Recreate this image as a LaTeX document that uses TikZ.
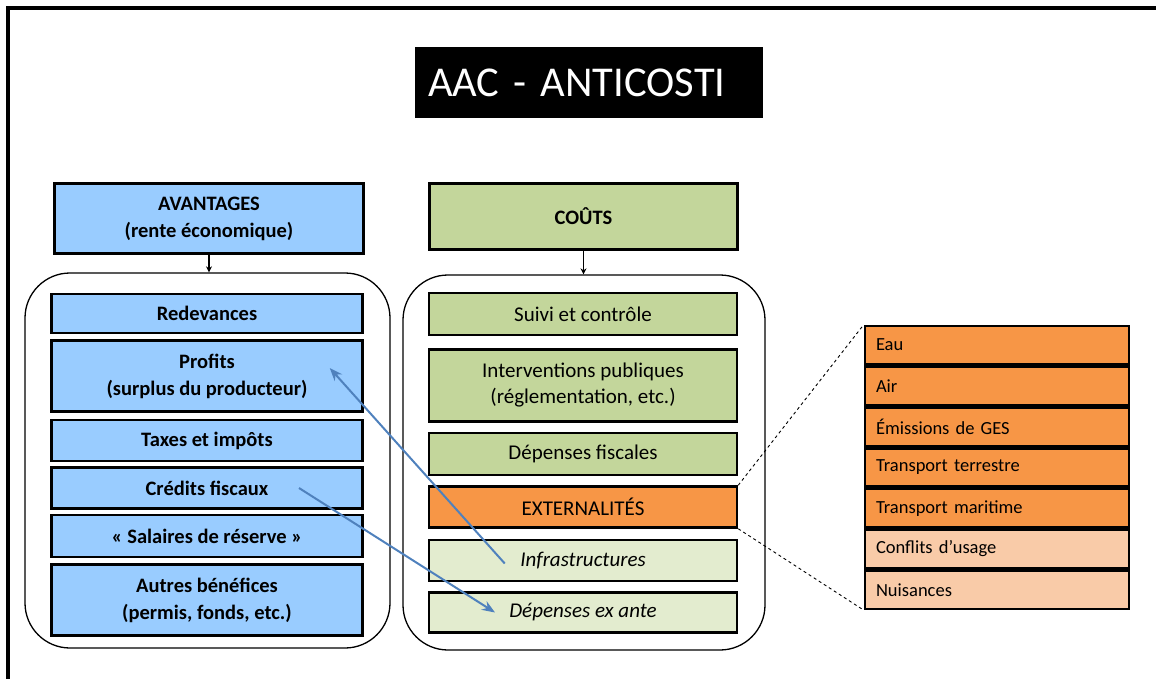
\documentclass[tikz,border=0pt]{standalone}
\usepackage{fontspec}
\setmainfont{Carlito}
\usepackage{xcolor}
\usetikzlibrary{arrows.meta, positioning}
\definecolor{avblue}{HTML}{99CCFF}
\definecolor{costgreen}{HTML}{C3D69B}
\definecolor{extorange}{HTML}{F79646}
\definecolor{paleorange}{HTML}{F9CBA8}
\definecolor{palegreen}{HTML}{E3ECCF}
\definecolor{linkblue}{HTML}{4F81BD}
\tikzset{
  itembox/.style={draw=black, line width=2.5pt, align=center, inner sep=0pt,
                  font=\fontsize{21}{26}\selectfont},
  benefit/.style={itembox, fill=avblue, font=\fontsize{20.5}{27}\selectfont\bfseries,
                  minimum width=311pt},
  cost/.style={itembox, fill=costgreen, minimum width=308pt},
  costpale/.style={cost, fill=palegreen, font=\fontsize{21}{26}\selectfont\itshape},
  extbox/.style={itembox, fill=extorange, minimum width=308pt},
  extitem/.style={itembox, fill=extorange, align=left, text width=242pt, inner xsep=11pt,
                  minimum height=38.3pt, font=\fontsize{18.5}{22}\selectfont},
  extitempale/.style={extitem, fill=paleorange},
  container/.style={draw=black, line width=1.3pt, rounded corners=45pt},
  droparrow/.style={-{Stealth[length=6pt, width=6pt]}, line width=1.6pt},
  linkarrow/.style={-{Stealth[length=13pt, width=10pt]}, line width=2pt, linkblue},
  zoomline/.style={dashed, line width=0.9pt}
}
\begin{document}
\begin{tikzpicture}[x=1pt, y=-1pt]
\useasboundingbox (0,0) rectangle (1156,679);

% frame
\draw[line width=4pt] (8,679) -- (8,8) -- (1156,8);

% title
\node[fill=black, text=white, align=left, text width=322pt, inner xsep=13pt,
      minimum height=71pt, font=\fontsize{42.5}{48}\selectfont] (title) at (589,83) {AAC - ANTICOSTI};

% headers
\node[benefit, minimum width=309pt, minimum height=70pt] (avantages) at (209,218.5)
  {AVANTAGES\\(rente économique)};
\node[cost, font=\fontsize{20.5}{26}\selectfont\bfseries, minimum width=308pt, minimum height=66pt]
  (couts) at (583.5,216.5) {COÛTS};

% containers
\node[container, minimum width=365pt, minimum height=375pt] (lcont) at (207.5,460.5) {};
\node[container, minimum width=362pt, minimum height=375pt] (rcont) at (584,462.5) {};

% benefits column
\node[benefit, minimum height=39pt] (redevances) at (207,313.5) {Redevances};
\node[benefit, minimum height=71pt, below=5pt of redevances] (profits) {Profits\\(surplus du producteur)};
\node[benefit, minimum height=41pt, below=6pt of profits] (taxes) {Taxes et impôts};
\node[benefit, minimum height=41pt, below=4pt of taxes] (credits) {Crédits fiscaux};
\node[benefit, minimum height=42pt, below=4pt of credits] (salaires) {«~Salaires de réserve~»};
\node[benefit, minimum height=71pt, below=5pt of salaires] (autres) {Autres bénéfices\\(permis, fonds, etc.)};

% costs column
\node[cost, minimum height=42pt] (suivi) at (583,314) {Suivi et contrôle};
\node[cost, minimum height=72pt, below=12pt of suivi] (interventions) {Interventions publiques\\(réglementation, etc.)};
\node[cost, minimum height=42pt, below=9pt of interventions] (fiscales) {Dépenses fiscales};
\node[extbox, minimum height=41pt, below=9pt of fiscales] (ext) {EXTERNALITÉS};
\node[costpale, minimum height=41pt, below=10pt of ext] (infra) {Infrastructures};
\node[costpale, minimum height=40pt, below=9pt of infra] (exante) {Dépenses ex ante};

% externalities detail
\node[extitem] (eau) at (997,345) {Eau};
\node[extitem, below=0pt of eau] (air) {Air};
\node[extitem, below=0pt of air] (ges) {Émissions de GES};
\node[extitem, below=0pt of ges] (terrestre) {Transport terrestre};
\node[extitem, below=0pt of terrestre] (maritime) {Transport maritime};
\node[extitempale, below=0pt of maritime] (conflits) {Conflits d’usage};
\node[extitempale, below=0pt of conflits] (nuisances) {Nuisances};

% arrows
\draw[droparrow] (avantages) -- (lcont.north -| avantages);
\draw[droparrow] (couts) -- (rcont.north -| couts);
\draw[zoomline] (ext.north east) -- (eau.north west);
\draw[zoomline] (ext.south east) -- (nuisances.south west);
\draw[linkarrow] ([xshift=77pt, yshift=-3pt]infra.west) -- ([xshift=-34pt, yshift=8pt]profits.east);
\draw[linkarrow] ([xshift=92pt]credits.center) -- ([xshift=-88pt]exante.center);

\end{tikzpicture}
\end{document}
